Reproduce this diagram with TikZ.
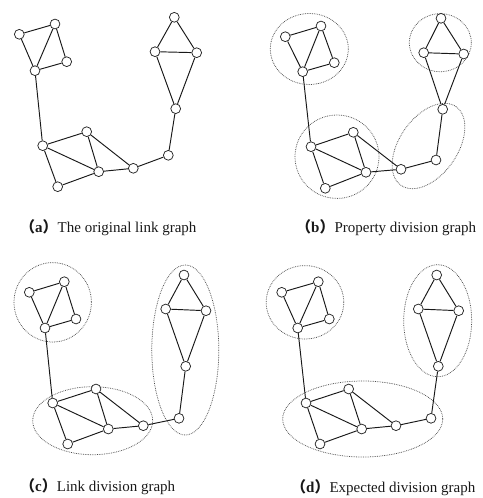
\documentclass[tikz,border=0pt]{standalone}
\usepackage{fontspec}
\setmainfont{Liberation Serif}
\newfontfamily\cjk{Noto Sans CJK SC}
\newcommand\gedges[1]{%
 \draw[edge] (#1a1)--(#1a2) (#1a1)--(#1a4) (#1a2)--(#1a4) (#1a2)--(#1a3) (#1a3)--(#1a4)
  (#1a4)--(#1b1) (#1b1)--(#1b2) (#1b1)--(#1b3) (#1b1)--(#1b4) (#1b2)--(#1b3)
  (#1b2)--(#1c1) (#1b3)--(#1b4) (#1b3)--(#1c1) (#1c1)--(#1c2) (#1c2)--(#1d4)
  (#1d4)--(#1d2) (#1d4)--(#1d3) (#1d2)--(#1d3) (#1d1)--(#1d2) (#1d1)--(#1d3);}
\newcommand\capt[2]{{\cjk\bfseries （}{\bfseries #1}{\cjk\bfseries ）}#2}
\begin{document}
\begin{tikzpicture}[x=1pt,y=-1pt,
  vtx/.style={circle,draw=black!85,fill=white,line width=0.75pt,minimum size=9.8pt,inner sep=0pt},
  edge/.style={draw=black!90,line width=0.95pt},
  grp/.style={draw=black!70,densely dotted,line width=0.75pt},
  captxt/.style={anchor=base west,font=\fontsize{15}{18}\selectfont,inner sep=0pt,text=black!90}]
\useasboundingbox (0,0) rectangle (482,498);
% ---------- ellipses ----------
\draw[grp] (309.3,49) ellipse [x radius=39, y radius=35.5];
\draw[grp] (440.3,42.7) ellipse [x radius=31, y radius=29];
\draw[grp] (337,156.7) ellipse [x radius=42, y radius=41.7];
\draw[grp, rotate around={55:(428.5,146)}] (428.5,146) ellipse [x radius=48, y radius=29];
\draw[grp] (52.7,302.3) ellipse [x radius=38.7, y radius=39.7];
\draw[grp] (92.7,420.7) ellipse [x radius=60, y radius=34];
\draw[grp] (185.3,350) ellipse [x radius=33.5, y radius=85];
\draw[grp] (305,302.3) ellipse [x radius=38.8, y radius=36.7];
\draw[grp] (437.7,320.7) ellipse [x radius=34, y radius=56];
\draw[grp] (362.7,419) ellipse [x radius=80, y radius=38];
% ---------- panel a ----------
\node[vtx] (Aa1) at (19.3,34.3) {};
\node[vtx] (Aa2) at (55,24) {};
\node[vtx] (Aa3) at (66.7,61.7) {};
\node[vtx] (Aa4) at (35,70.7) {};
\node[vtx] (Ab1) at (42.7,145.7) {};
\node[vtx] (Ab2) at (86.7,131.7) {};
\node[vtx] (Ab3) at (98.7,171.7) {};
\node[vtx] (Ab4) at (57.7,186.7) {};
\node[vtx] (Ac1) at (133.3,168.3) {};
\node[vtx] (Ac2) at (168.3,155.3) {};
\node[vtx] (Ad4) at (175.7,108.7) {};
\node[vtx] (Ad1) at (174.3,17.3) {};
\node[vtx] (Ad2) at (155,51.7) {};
\node[vtx] (Ad3) at (196.7,52.7) {};
\gedges{A}
% ---------- panel b ----------
\node[vtx] (Ba1) at (285.3,36.7) {};
\node[vtx] (Ba2) at (321,26) {};
\node[vtx] (Ba3) at (334.3,62.7) {};
\node[vtx] (Ba4) at (302.7,71.7) {};
\node[vtx] (Bb1) at (311,146.7) {};
\node[vtx] (Bb2) at (353.3,132.3) {};
\node[vtx] (Bb3) at (366,172.3) {};
\node[vtx] (Bb4) at (325.3,188.3) {};
\node[vtx] (Bc1) at (401,169.3) {};
\node[vtx] (Bc2) at (436,160) {};
\node[vtx] (Bd4) at (442.7,109.3) {};
\node[vtx] (Bd1) at (441,18.3) {};
\node[vtx] (Bd2) at (423.7,52.7) {};
\node[vtx] (Bd3) at (463.7,54) {};
\gedges{B}
% ---------- panel c ----------
\node[vtx] (Ca1) at (29.3,292.3) {};
\node[vtx] (Ca2) at (64.3,281.7) {};
\node[vtx] (Ca3) at (76,319) {};
\node[vtx] (Ca4) at (45,328) {};
\node[vtx] (Cb1) at (52.7,403) {};
\node[vtx] (Cb2) at (96,389) {};
\node[vtx] (Cb3) at (108.3,429) {};
\node[vtx] (Cb4) at (67.7,444) {};
\node[vtx] (Cc1) at (143.3,425.7) {};
\node[vtx] (Cc2) at (179,418.3) {};
\node[vtx] (Cd4) at (185.7,366.3) {};
\node[vtx] (Cd1) at (184,275) {};
\node[vtx] (Cd2) at (165.7,309) {};
\node[vtx] (Cd3) at (206,310.7) {};
\gedges{C}
% ---------- panel d ----------
\node[vtx] (Da1) at (281.7,292.3) {};
\node[vtx] (Da2) at (318.3,281.7) {};
\node[vtx] (Da3) at (329.3,319) {};
\node[vtx] (Da4) at (297.7,328) {};
\node[vtx] (Db1) at (306,403) {};
\node[vtx] (Db2) at (348.7,389) {};
\node[vtx] (Db3) at (361.7,429) {};
\node[vtx] (Db4) at (320,444) {};
\node[vtx] (Dc1) at (396,425.7) {};
\node[vtx] (Dc2) at (431,418.3) {};
\node[vtx] (Dd4) at (438.3,366.3) {};
\node[vtx] (Dd1) at (436.7,275) {};
\node[vtx] (Dd2) at (418.3,309) {};
\node[vtx] (Dd3) at (458.7,310.7) {};
\gedges{D}
% ---------- captions ----------
\node[captxt] (capa) at (20,232.5) {\capt{a}{The original link graph}};
\node[captxt] (capb) at (296,232.5) {\capt{b}{Property division graph}};
\node[captxt] (capc) at (20,491.5) {\capt{c}{Link division graph}};
\node[captxt] (capd) at (291,492) {\capt{d}{Expected division graph}};
\end{tikzpicture}
\end{document}
